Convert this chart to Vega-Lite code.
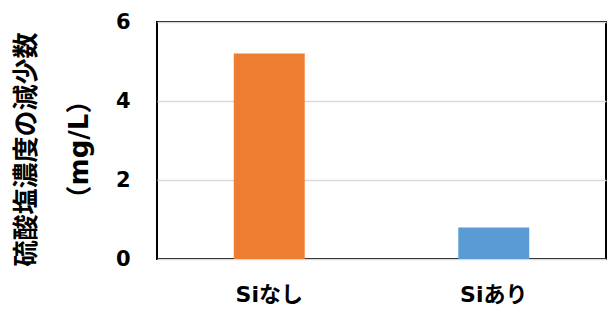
{
  "$schema": "https://vega.github.io/schema/vega-lite/v6.json",
  "width": 449,
  "height": 237,
  "autosize": {"type": "none"},
  "padding": {"left": 157, "top": 22, "right": 5, "bottom": 53},
  "background": "white",
  "config": {
    "font": "DejaVu Sans, Noto Sans CJK JP",
    "view": {"stroke": "#000000", "strokeWidth": 2}
  },
  "data": {
    "values": [
      {"group": "Siなし", "value": 5.2},
      {"group": "Siあり", "value": 0.8}
    ]
  },
  "mark": {"type": "bar"},
  "encoding": {
    "x": {
      "field": "group",
      "type": "nominal",
      "sort": ["Siなし", "Siあり"],
      "scale": {"paddingInner": 0.684, "paddingOuter": 0.342},
      "axis": {
        "title": null,
        "labelAngle": 0,
        "labelFontSize": 22,
        "labelFontWeight": "bold",
        "labelColor": "#000000",
        "labelPadding": 25,
        "ticks": false,
        "domain": false
      }
    },
    "y": {
      "field": "value",
      "type": "quantitative",
      "scale": {"domain": [0, 6]},
      "axis": {
        "values": [0, 2, 4, 6],
        "title": ["硫酸塩濃度の減少数", "（mg/L）"],
        "titleFontSize": 26,
        "titleFontWeight": "bold",
        "titleColor": "#000000",
        "titleLineHeight": 53,
        "titlePadding": 23,
        "titleY": 127,
        "labelFontSize": 21,
        "labelFontWeight": "bold",
        "labelColor": "#000000",
        "labelPadding": 27,
        "ticks": false,
        "domain": false,
        "gridColor": "#D9D9D9",
        "gridWidth": 1.5
      }
    },
    "color": {
      "field": "group",
      "type": "nominal",
      "scale": {"domain": ["Siなし", "Siあり"], "range": ["#ED7D31", "#5B9BD5"]},
      "legend": null
    }
  }
}
